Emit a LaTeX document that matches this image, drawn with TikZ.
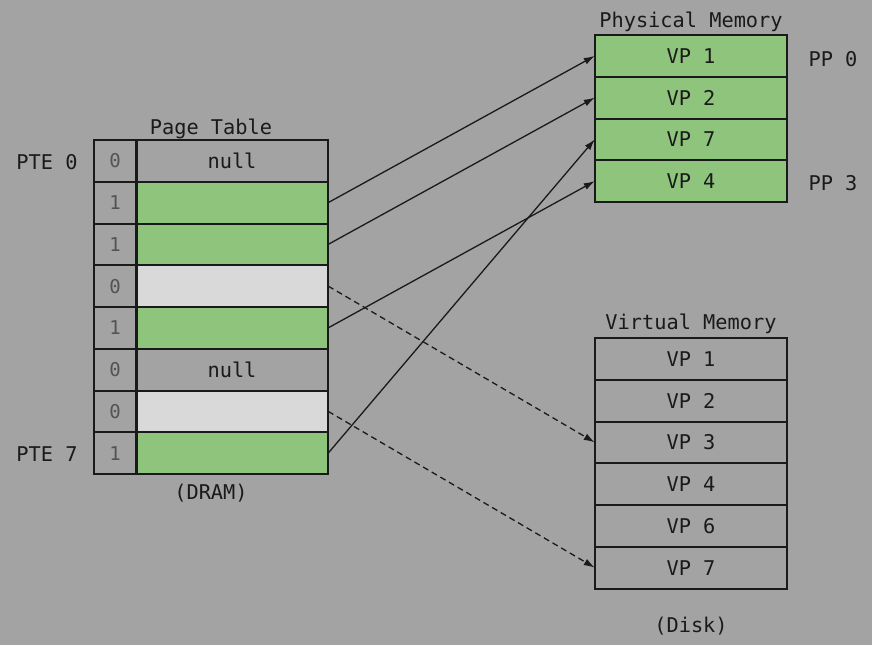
\documentclass[tikz,border=0pt]{standalone}
\usepackage{fontspec}
\setmainfont{DejaVu Sans Mono}
\usetikzlibrary{arrows.meta}
\definecolor{bg}{HTML}{A3A3A3}
\definecolor{cgreen}{HTML}{8FC47C}
\definecolor{clight}{HTML}{D9D9D9}
\definecolor{ink}{HTML}{1A1A1A}
\tikzset{
  cell/.style={rectangle, inner sep=0pt, minimum width=192pt, minimum height=41.75pt, font=\fontsize{20.3}{22}\selectfont, text=ink},
  bitcell/.style={cell, minimum width=42pt, text=ink!75, font=\fontsize{19}{22}\selectfont},
  lbl/.style={font=\fontsize{20.3}{22}\selectfont, text=ink, inner sep=0pt},
  edge/.style={draw=ink, line width=1.6pt},
  conn/.style={draw=ink, line width=1.3pt, -{Latex[length=11pt,width=7pt]}},
  dconn/.style={conn, dash pattern=on 6pt off 4pt},
}
\begin{document}
\begin{tikzpicture}[x=1pt, y={(0pt,-1pt)}]
\fill[bg] (0,0) rectangle (872,645);
\useasboundingbox (0,0) rectangle (872,645);
% page table
\foreach \i/\b/\f/\t in {0/0/bg/null,1/1/cgreen/,2/1/cgreen/,3/0/clight/,4/1/cgreen/,5/0/bg/null,6/0/clight/,7/1/cgreen/}{
  \node[bitcell, fill=bg] (b\i) at (115, {140+41.75*(\i+0.5)}) {\b};
  \node[cell, fill=\f] (p\i) at (232, {140+41.75*(\i+0.5)}) {\t};
}
\foreach \i in {0,...,7}{
  \draw[edge] (b\i.north west) rectangle (b\i.south east);
  \draw[edge] (p\i.north west) rectangle (p\i.south east);
}
\draw[ink, line width=3pt] (b0.north east) -- (b7.south east);
\node[lbl] (ptt) at (211,129) {Page Table};
\node[lbl] (dram) at (211,493) {(DRAM)};
\node[lbl] (pte0) at (47,162) {PTE 0};
\node[lbl] (pte7) at (47,454) {PTE 7};
% physical memory
\foreach \i/\t in {1/VP 1,2/VP 2,3/VP 7,4/VP 4}{
  \node[cell, fill=cgreen] (m\i) at (691, {35+41.75*(\i-0.5)}) {\t};
}
\foreach \i in {1,...,4}{
  \draw[edge] (m\i.north west) rectangle (m\i.south east);
}
\node[lbl] (pmt) at (691,22) {Physical Memory};
\node[lbl] (pp0) at (833,59) {PP 0};
\node[lbl] (pp3) at (833,183) {PP 3};
% virtual memory
\foreach \i/\t in {1/VP 1,2/VP 2,3/VP 3,4/VP 4,5/VP 6,6/VP 7}{
  \node[cell, fill=bg] (v\i) at (691, {338+41.75*(\i-0.5)}) {\t};
}
\foreach \i in {1,...,6}{
  \draw[edge] (v\i.north west) rectangle (v\i.south east);
}
\node[lbl] (vmt) at (691,324) {Virtual Memory};
\node[lbl] (disk) at (691,626) {(Disk)};
% connectors
\draw[conn] (p1.east) -- (m1.west);
\draw[conn] (p2.east) -- (m2.west);
\draw[conn] (p4.east) -- (m4.west);
\draw[conn] (p7.east) -- (m3.west);
\draw[dconn] (p3.east) -- (v3.west);
\draw[dconn] (p6.east) -- (v6.west);
\end{tikzpicture}
\end{document}
